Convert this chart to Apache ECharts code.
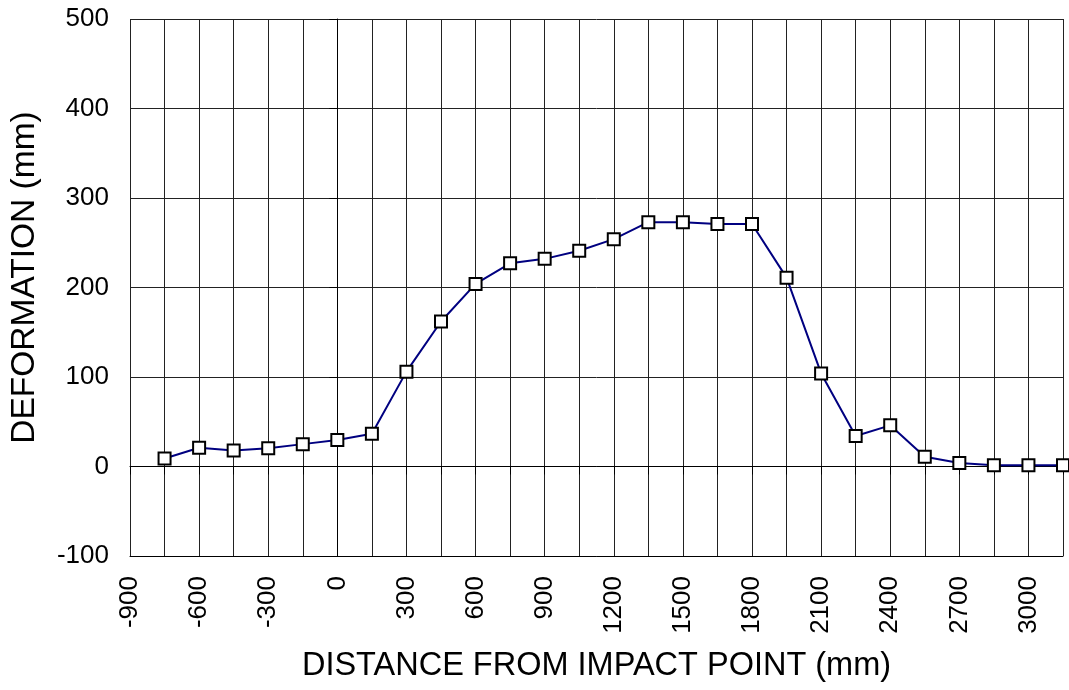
<!DOCTYPE html>
<html>
<head>
<meta charset="utf-8">
<script src="https://cdn.jsdelivr.net/npm/echarts@6/dist/echarts.min.js"></script>
<style>
html,body{margin:0;padding:0;background:#fff;}
#c{width:1069px;height:690px;}
</style>
</head>
<body>
<div id="c"></div>
<script>
const distances = [-750,-600,-450,-300,-150,0,150,300,450,600,750,900,1050,1200,1350,1500,1650,1800,1950,2100,2250,2400,2550,2700,2850,3000,3150];
const deformation = [9,21,18,20.5,25,29.5,36.5,106,162,204,227,232,241,254,273,273,271,271,211,104,34,46,11,4,1.5,1.5,1.5];
const xName = 'DISTANCE FROM IMPACT POINT (mm)';
const yName = 'DEFORMATION (mm)';

const font = 'Liberation Sans, Arial, sans-serif';
const chart = echarts.init(document.getElementById('c'));
chart.setOption({
  animation: false,
  backgroundColor: '#fff',
  grid: {left: 130, top: 19, right: 6, bottom: 134, containLabel: false, outerBoundsMode: 'none'},
  xAxis: [{
    type: 'value', min: -900, max: 3150, interval: 150,
    name: xName, nameLocation: 'middle', nameGap: 94,
    nameTextStyle: {fontFamily: font, fontSize: 32.5, color: '#000'},
    axisLine: {show: true, onZero: false, lineStyle: {color: '#000', width: 1}},
    axisTick: {show: false},
    splitLine: {show: true, lineStyle: {color: '#222', width: 1}},
    axisLabel: {
      rotate: 90, margin: 20, fontFamily: font, fontSize: 26, color: '#000',
      formatter: v => (Math.round(v) % 300 === 0 ? String(v) : '')
    }
  }, {
    type: 'value', min: -900, max: 3150, interval: 150, position: 'bottom',
    axisLine: {show: true, onZero: true, lineStyle: {color: '#000', width: 1}},
    axisTick: {show: true, length: 8, inside: false, lineStyle: {color: '#000', width: 1}},
    axisLabel: {show: false},
    splitLine: {show: false}
  }],
  yAxis: {
    type: 'value', min: -100, max: 500, interval: 100,
    name: yName, nameLocation: 'middle', nameGap: 88,
    nameTextStyle: {fontFamily: font, fontSize: 33.5, color: '#000', padding: [0, 0, 0, 20]},
    axisLine: {show: true, lineStyle: {color: '#000', width: 1}},
    axisTick: {show: true, length: 8, inside: false, lineStyle: {color: '#000'}},
    splitLine: {show: true, lineStyle: {color: '#222', width: 1}},
    axisLabel: {margin: 21, fontFamily: font, fontSize: 26, color: '#000'}
  },
  series: [{
    type: 'line',
    xAxisIndex: 0,
    data: distances.map((d, i) => [d, deformation[i]]),
    clip: false,
    symbol: 'rect', symbolSize: 12,
    lineStyle: {color: '#000080', width: 2},
    itemStyle: {color: '#fff', borderColor: '#000', borderWidth: 2},
    z: 5
  }]
});
</script>
</body>
</html>
